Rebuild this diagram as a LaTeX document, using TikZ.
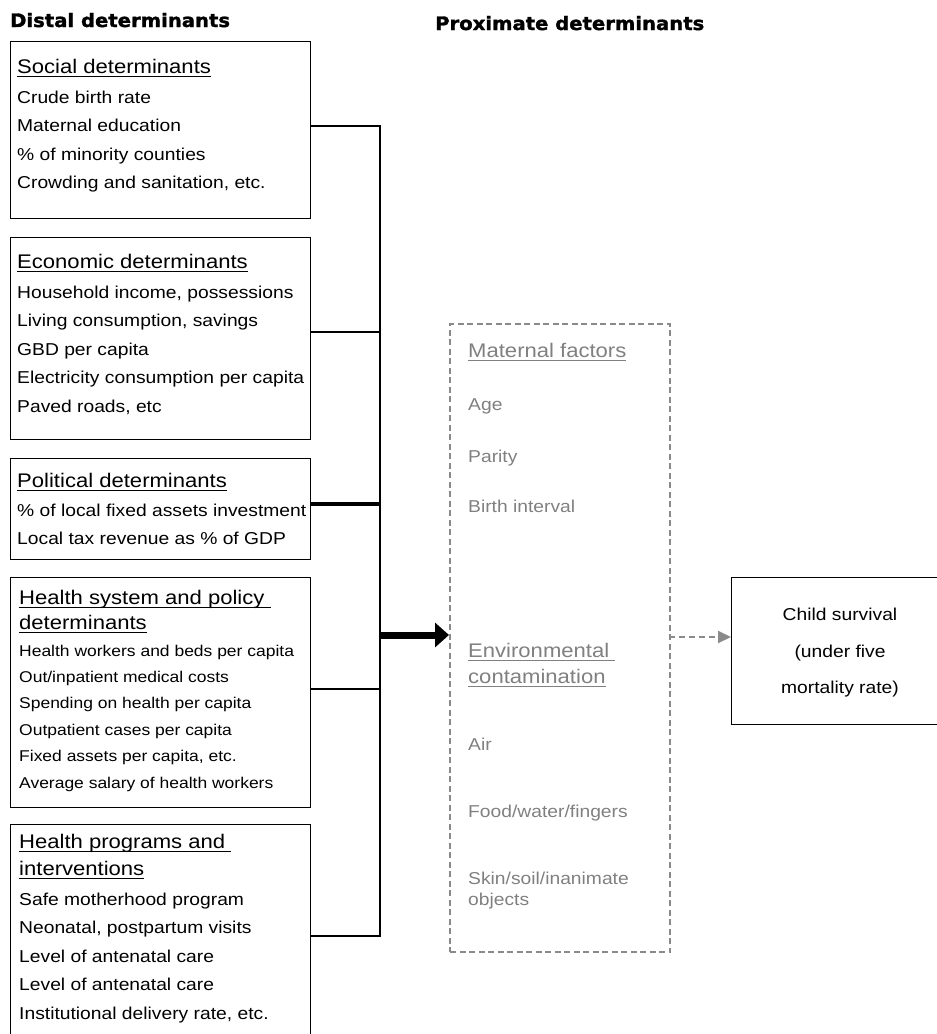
\documentclass[tikz,border=0pt]{standalone}
\usepackage{fontspec}
\setmainfont[FakeStretch=1.12]{Liberation Sans}
\newfontfamily\headfont[FakeStretch=1.06, FakeBold=1.6]{DejaVu Sans}
\usetikzlibrary{arrows.meta}
\definecolor{proxgray}{RGB}{128,128,128}
\definecolor{dashgray}{RGB}{138,138,138}
\newcommand\ulin[1]{\setbox0\hbox{#1}\rlap{\rule[-3.4pt]{\wd0}{0.9pt}}\box0}

\tikzset{
  detbox/.style={draw, line width=1.3pt, anchor=north west, inner sep=0pt},
  headtxt/.style={anchor=base west, inner sep=0pt, font=\headfont\bfseries\fontsize{18.5}{20}\selectfont},
  bigtxt/.style={anchor=base west, inner sep=0pt, font=\fontsize{19.7}{22}\selectfont},
  txt/.style={anchor=base west, inner sep=0pt, font=\fontsize{17.2}{20}\selectfont},
  smalltxt/.style={anchor=base west, inner sep=0pt, font=\fontsize{15.6}{18}\selectfont},
  faded/.style={text=proxgray},
  link/.style={line width=2pt},
}

\begin{document}
\begin{tikzpicture}[x=1pt, y=-1pt]
	%%%%% START %%%%%
	\useasboundingbox (0,0) rectangle (937,1034);

	\node[headtxt] (distal) at (10,27) {Distal determinants};
	\node[headtxt] (prox) at (435,30) {Proximate determinants};

	% distal boxes
	\node[detbox, minimum width=300pt, minimum height=177pt] (soc) at (10,41) {};
	\node[detbox, minimum width=300pt, minimum height=202pt] (eco) at (10,237) {};
	\node[detbox, minimum width=300pt, minimum height=101pt] (pol) at (10,458) {};
	\node[detbox, minimum width=300pt, minimum height=230pt] (hsys) at (10,577) {};
	\node[detbox, minimum width=300pt, minimum height=220pt] (hprog) at (10,824) {};

	\node[bigtxt] (soch) at (17,73.3) {\ulin{Social determinants}};
	\foreach \t [count=\i] in {Crude birth rate, Maternal education, \% of minority counties, {Crowding and sanitation, etc.}}
		\node[txt] (soc\i) at (17,{103.3+28.5*(\i-1)}) {\t};

	\node[bigtxt] (ecoh) at (17,268) {\ulin{Economic determinants}};
	\foreach \t [count=\i] in {{Household income, possessions}, {Living consumption, savings}, GBD per capita, Electricity consumption per capita, {Paved roads, etc}}
		\node[txt] (eco\i) at (17,{298+28.5*(\i-1)}) {\t};

	\node[bigtxt] (polh) at (17,487) {\ulin{Political determinants}};
	\foreach \t [count=\i] in {\% of local fixed assets investment, Local tax revenue as \% of GDP}
		\node[txt] (pol\i) at (17,{516+28.5*(\i-1)}) {\t};

	\node[bigtxt] (hsysh) at (19,604) {\ulin{Health system and policy\ }};
	\node[bigtxt] (hsysh2) at (19,629) {\ulin{determinants}};
	\foreach \t [count=\i] in {Health workers and beds per capita, Out/inpatient medical costs, Spending on health per capita, Outpatient cases per capita, {Fixed assets per capita, etc.}, Average salary of health workers}
		\node[smalltxt] (hsys\i) at (19,{656+26.4*(\i-1)}) {\t};

	\node[bigtxt] (hprogh) at (19,848) {\ulin{Health programs and\ }};
	\node[bigtxt] (hprogh2) at (19,875) {\ulin{interventions}};
	\foreach \t [count=\i] in {Safe motherhood program, {Neonatal, postpartum visits}, Level of antenatal care, Level of antenatal care, {Institutional delivery rate, etc.}}
		\node[txt] (hprog\i) at (19,{905+28.5*(\i-1)}) {\t};

	% bus
	\coordinate (busA) at (380,126);
	\coordinate (busB) at (380,332);
	\coordinate (busC) at (380,504);
	\coordinate (busD) at (380,689);
	\coordinate (busE) at (380,936);
	\coordinate (busM) at (380,635);

	\draw[line width=2.8pt, line join=miter] (soc.east |- busA) -- (busA) -- (busE) -- (hprog.east |- busE);
	\draw[link] (eco.east |- busB) -- (busB);
	\draw[line width=4pt] (pol.east |- busC) -- (busC);
	\draw[line width=1.2pt] (hsys.east |- busD) -- (busD);

	% proximate box
	\node[detbox, draw=dashgray, line width=2pt, dash pattern=on 6pt off 3.5pt, minimum width=220pt, minimum height=628pt] (dash) at (449,323) {};
	\draw[line width=7pt, -{Triangle[length=14pt, width=24pt]}] (busM) -- (dash.west |- busM);

	\node[bigtxt, faded] (math) at (468,357) {\ulin{Maternal factors}};
	\node[txt, faded] (age) at (468,410) {Age};
	\node[txt, faded] (parity) at (468,462) {Parity};
	\node[txt, faded] (birth) at (468,512) {Birth interval};
	\node[bigtxt, faded] (envh) at (468,657) {\ulin{Environmental\ }};
	\node[bigtxt, faded] (envh2) at (468,683) {\ulin{contamination}};
	\node[txt, faded] (air) at (468,750) {Air};
	\node[txt, faded] (food) at (468,817) {Food/water/fingers};
	\node[txt, faded] (skin) at (468,884) {Skin/soil/inanimate};
	\node[txt, faded] (obj) at (468,905) {objects};

	% outcome
	\node[detbox, minimum width=220pt, minimum height=147pt] (child) at (731,577) {};
	\node[txt, anchor=base] (child1) at (840,620) {Child survival};
	\node[txt, anchor=base] (child2) at (840,657) {(under five};
	\node[txt, anchor=base] (child3) at (840,693) {mortality rate)};

	\coordinate (dashout) at (669,637);
	\draw[dashgray, line width=2pt, dash pattern=on 6pt off 4pt, -{Triangle[length=13pt, width=12pt]}] (dashout) -- (child.west |- dashout);
	%%%%% END %%%%%
\end{tikzpicture}
\end{document}
